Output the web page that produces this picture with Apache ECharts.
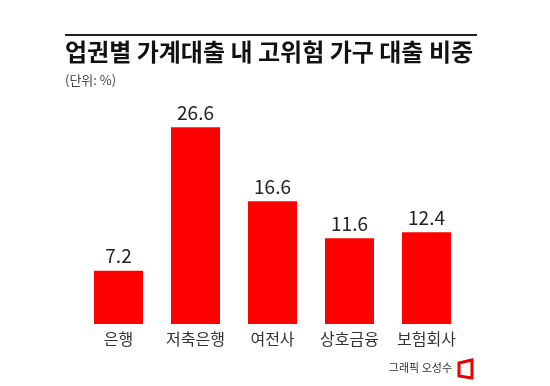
<!DOCTYPE html>
<html><head><meta charset="utf-8">
<script src="https://cdn.jsdelivr.net/npm/echarts@6/dist/echarts.min.js"></script>
<style>html,body{margin:0;padding:0;background:#fff}#c{width:550px;height:386px}</style>
</head><body><div id="c"></div>
<script>
const categories = ['은행', '저축은행', '여전사', '상호금융', '보험회사'];
const values = [7.2, 26.6, 16.6, 11.6, 12.4];
const titleText = '업권별 가계대출 내 고위험 가구 대출 비중';
const unitText = '(단위: %)';
const creditText = '그래픽 오성수';

const chart = echarts.init(document.getElementById('c'), null, {renderer: 'canvas'});
const font = '"Noto Sans CJK KR", "Noto Sans", sans-serif';
chart.setOption({
  backgroundColor: '#fff',
  animation: false,
  grid: {left: 80, width: 385, top: 102, height: 222},
  xAxis: {
    type: 'category', data: categories,
    axisLine: {show: false}, axisTick: {show: false},
    axisLabel: {fontFamily: font, fontSize: 16, color: '#333', margin: 7}
  },
  yAxis: {type: 'value', min: 0, max: 30, show: false, splitLine: {show: false}},
  series: [{
    type: 'bar', data: values, barWidth: 49,
    itemStyle: {color: '#ff0000'},
    label: {show: true, position: 'top', distance: 5, fontFamily: font, fontSize: 19, color: '#222'}
  }],
  graphic: [
    {type: 'rect', shape: {x: 65, y: 34, width: 412, height: 2}, style: {fill: '#222'}},
    {type: 'text', x: 65, y: 52, style: {text: titleText, font: 'bold 24px ' + font, fill: '#111', textVerticalAlign: 'middle'}},
    {type: 'text', x: 65, y: 80, style: {text: unitText, font: '13px ' + font, fill: '#444', textVerticalAlign: 'middle'}},
    {type: 'text', x: 452, y: 368, style: {text: creditText, font: '11px ' + font, fill: '#333', textAlign: 'right', textVerticalAlign: 'middle'}},
    {type: 'polygon', shape: {points: [[459, 363], [472, 360], [472, 378], [459, 376]]}, style: {fill: '#fff', stroke: '#e60000', lineWidth: 3}}
  ]
});
</script></body></html>
